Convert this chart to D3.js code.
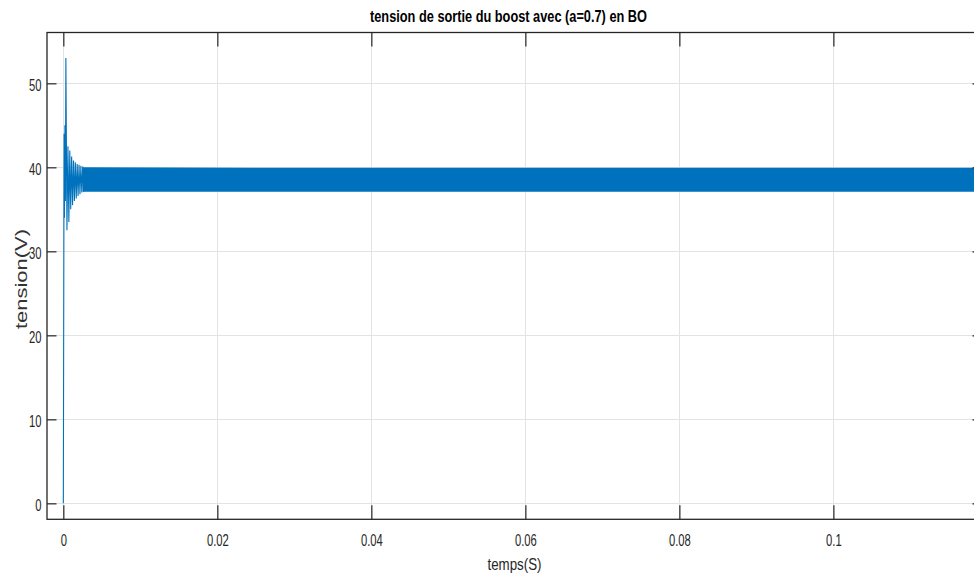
<!DOCTYPE html>
<html>
<head>
<meta charset="utf-8">
<script src="https://cdn.jsdelivr.net/npm/d3@7"></script>
<style>
html,body{margin:0;padding:0;background:#fff;overflow:hidden;}
svg{display:block;}
</style>
</head>
<body>
<svg id="chart" width="974" height="581"></svg>
<script>
// ---- data ----
const titleText = "tension de sortie du boost avec (a=0.7) en BO";
const xLabelText = "temps(S)";
const yLabelText = "tension(V)";

const xTickValues = [0, 0.02, 0.04, 0.06, 0.08, 0.1];
const xTickLabels = ["0", "0.02", "0.04", "0.06", "0.08", "0.1"];
const yTickValues = [0, 10, 20, 30, 40, 50];
const yTickLabels = ["0", "10", "20", "30", "40", "50"];

// start-up transient (time in s, voltage in V)
const transientT = [0, 0.00010, 0.00015, 0.00021, 0.00027, 0.00033, 0.00047,
  0.00060, 0.00072, 0.00084, 0.00096, 0.00108, 0.00120, 0.00132, 0.00144,
  0.00156, 0.00168, 0.00180, 0.00192, 0.00204, 0.00216, 0.00228, 0.00240,
  0.00252, 0.00264];
const transientV = [0, 44, 34, 45, 36, 53, 32.5,
  42.5, 33.5, 42, 35, 41.3, 35.5, 40.8, 36,
  40.6, 36.3, 40.4, 36.6, 40.3, 36.8, 40.2, 37,
  40.1, 37.1];

// steady-state switching ripple envelope
const bandT = [0.0025, 0.03, 0.06, 0.09, 0.12];
const bandHi = [40.0, 39.95, 39.95, 39.95, 39.95];
const bandLo = [37.1, 37.1, 37.1, 37.1, 37.1];

// ---- layout ----
const L = 47, R = 982, T = 32.5, B = 519.3;
const svg = d3.select("#chart");
const x = d3.scaleLinear().domain([-0.00212, 0.1193]).range([L, R]);
const y = d3.scaleLinear().domain([-1.9, 56.05]).range([B, T]);

const font = "'Liberation Sans', Arial, Helvetica, sans-serif";
const axisColor = "#262626";
const lineColor = "#0072BD";
const sx = 0.645;

// background
svg.append("rect").attr("x", L).attr("y", T).attr("width", R - L).attr("height", B - T).attr("fill", "#fff");

// grid
const grid = svg.append("g").attr("stroke", "#e3e3e3").attr("stroke-width", 1);
grid.selectAll("line.gx").data(xTickValues).join("line").attr("class", "gx")
  .attr("x1", d => Math.round(x(d)) + 0.5).attr("x2", d => Math.round(x(d)) + 0.5)
  .attr("y1", T).attr("y2", B);
grid.selectAll("line.gy").data(yTickValues).join("line").attr("class", "gy")
  .attr("y1", d => Math.round(y(d)) + 0.5).attr("y2", d => Math.round(y(d)) + 0.5)
  .attr("x1", L).attr("x2", R);

// clip
svg.append("clipPath").attr("id", "clip").append("rect")
  .attr("x", L).attr("y", T).attr("width", R - L).attr("height", B - T);
const plot = svg.append("g").attr("clip-path", "url(#clip)");

// ripple band
const bandData = bandT.map((t, i) => ({t, hi: bandHi[i], lo: bandLo[i]}));
plot.append("path").datum(bandData)
  .attr("fill", lineColor)
  .attr("d", d3.area().x(d => x(d.t)).y0(d => y(d.lo)).y1(d => y(d.hi)));

// transient line
const trData = transientT.map((t, i) => ({t, v: transientV[i]}));
plot.append("path").datum(trData)
  .attr("fill", "none").attr("stroke", lineColor).attr("stroke-width", 1.1)
  .attr("stroke-linejoin", "miter")
  .attr("d", d3.line().x(d => x(d.t)).y(d => y(d.v)));

// axes (MATLAB style: inward ticks on all four sides)
const xTickLen = 14, yTickLen = 9.5;
const gB = svg.append("g").attr("transform", `translate(0,${B})`)
  .call(d3.axisBottom(x).tickValues(xTickValues).tickSizeInner(-xTickLen).tickSizeOuter(0)
    .tickFormat((d, i) => xTickLabels[i]));
const gT = svg.append("g").attr("transform", `translate(0,${T})`)
  .call(d3.axisTop(x).tickValues(xTickValues).tickSizeInner(-xTickLen).tickSizeOuter(0).tickFormat(""));
const gL = svg.append("g").attr("transform", `translate(${L},0)`)
  .call(d3.axisLeft(y).tickValues(yTickValues).tickSizeInner(-yTickLen).tickSizeOuter(0)
    .tickFormat((d, i) => yTickLabels[i]));
const gR = svg.append("g").attr("transform", `translate(${R},0)`)
  .call(d3.axisRight(y).tickValues(yTickValues).tickSizeInner(-yTickLen).tickSizeOuter(0).tickFormat(""));

[gB, gT, gL, gR].forEach(g => {
  g.select(".domain").remove();
  g.selectAll(".tick line").attr("stroke", axisColor).attr("stroke-width", 1.2);
});

gB.selectAll(".tick text")
  .attr("font-family", font).attr("font-size", 17.4).attr("fill", axisColor)
  .attr("text-anchor", "middle").attr("y", 26.7).attr("dy", 0)
  .attr("transform", `scale(${sx},1)`);
gL.selectAll(".tick text")
  .attr("font-family", font).attr("font-size", 17.4).attr("fill", axisColor)
  .attr("text-anchor", "end").attr("x", -5.5 / sx).attr("y", 7.4).attr("dy", 0)
  .attr("transform", `scale(${sx},1)`);

// frame
svg.append("rect").attr("x", L).attr("y", T).attr("width", R - L).attr("height", B - T)
  .attr("fill", "none").attr("stroke", axisColor).attr("stroke-width", 1.3);

// title
svg.append("text").attr("x", 508.5).attr("y", 22)
  .attr("text-anchor", "middle").attr("font-family", font).attr("font-weight", "bold")
  .attr("font-size", 16.5).attr("fill", "#000")
  .attr("textLength", 277).attr("lengthAdjust", "spacingAndGlyphs")
  .text(titleText);

// x label
svg.append("text").attr("x", 514.5).attr("y", 569.6)
  .attr("text-anchor", "middle").attr("font-family", font)
  .attr("font-size", 16.5).attr("fill", axisColor)
  .attr("textLength", 54).attr("lengthAdjust", "spacingAndGlyphs")
  .text(xLabelText);

// y label
svg.append("text").attr("transform", "translate(26.5,279) rotate(-90)")
  .attr("text-anchor", "middle").attr("font-family", font)
  .attr("font-size", 17).attr("fill", "#333")
  .attr("textLength", 100).attr("lengthAdjust", "spacingAndGlyphs")
  .text(yLabelText);
</script>
</body>
</html>
